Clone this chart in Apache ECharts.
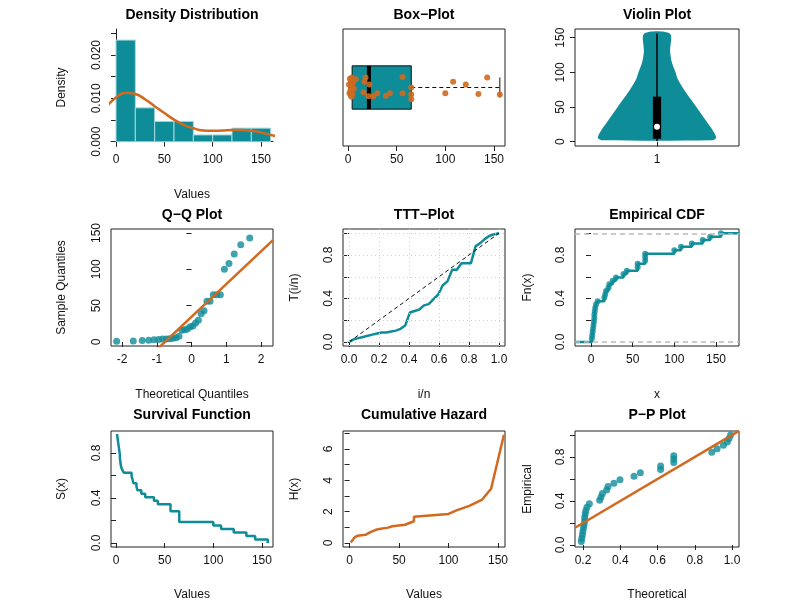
<!DOCTYPE html>
<html>
<head>
<meta charset="utf-8">
<script src="https://cdn.jsdelivr.net/npm/echarts@6/dist/echarts.min.js"></script>
<style>
  html, body { margin: 0; padding: 0; background: #fff; }
  #main { width: 803px; height: 612px; }
</style>
</head>
<body>
<div id="main"></div>
<script>
// sample values (sorted), read from the ECDF / survival steps
const values = [1, 1.5, 2, 2.5, 3, 3.5, 4, 4, 4.5, 5, 6, 8, 16, 17, 18, 21, 22, 26, 30, 39,
  43, 56, 56, 65, 65, 65, 100, 108, 121, 134, 143, 156]
// histogram bin edges
const binEdges = [0, 20, 40, 60, 80, 100, 120, 140, 160]
// kernel density curve
const densX = [-12, 0, 10, 20, 30, 40, 50, 60, 70, 80, 90, 100, 110, 120, 130, 140, 150, 168]
const densY = [0.0075, 0.0102, 0.0113, 0.011, 0.0098, 0.0082, 0.0066, 0.0051, 0.0039, 0.0031,
  0.0026, 0.0025, 0.0026, 0.0027, 0.0027, 0.0025, 0.0021, 0.0011]
// violin half width (in x units) against value
const violinY = [2, 5, 10, 20, 30, 40, 50, 60, 75, 90, 100, 115, 130, 156]
const violinW = [0.33, 0.36, 0.355, 0.33, 0.30, 0.27, 0.24, 0.21, 0.165, 0.127, 0.113, 0.09, 0.08, 0.078]
// vertical jitter of the box-plot points
const jitter = [0.05, -0.1, 0.15, -0.05, 0.12, -0.16, 0.02, 0.17, -0.12, 0.08, -0.02, 0.14,
  -0.08, 0.1, 0.17, -0.15, 0.05, -0.15, -0.1, -0.14, -0.1, -0.1, 0.18, 0.0, -0.12, -0.2,
  -0.1, 0.1, 0.05, -0.11, 0.17, -0.12]

const TEAL = '#0e8c98'
const ORANGE = '#d2691e'
const FONT = 'Liberation Sans'

const n = values.length
const mean = values.reduce((a, b) => a + b, 0) / n
const sd = Math.sqrt(values.reduce((a, b) => a + (b - mean) * (b - mean), 0) / (n - 1))

function qnorm (p) {
  const a = [-39.69683028665376, 220.9460984245205, -275.9285104469687, 138.357751867269, -30.66479806614716, 2.506628277459239]
  const b = [-54.47609879822406, 161.5858368580409, -155.6989798598866, 66.80131188771972, -13.28068155288572]
  const c = [-0.007784894002430293, -0.3223964580411365, -2.400758277161838, -2.549732539343734, 4.374664141464968, 2.938163982698783]
  const d = [0.007784695709041462, 0.3224671290700398, 2.445134137142996, 3.754408661907416]
  const pl = 0.02425
  let q, r
  if (p < pl) {
    q = Math.sqrt(-2 * Math.log(p))
    return (((((c[0] * q + c[1]) * q + c[2]) * q + c[3]) * q + c[4]) * q + c[5]) / ((((d[0] * q + d[1]) * q + d[2]) * q + d[3]) * q + 1)
  }
  if (p > 1 - pl) return -qnorm(1 - p)
  q = p - 0.5
  r = q * q
  return (((((a[0] * r + a[1]) * r + a[2]) * r + a[3]) * r + a[4]) * r + a[5]) * q / (((((b[0] * r + b[1]) * r + b[2]) * r + b[3]) * r + b[4]) * r + 1)
}
function pnorm (z) {
  const t = 1 / (1 + 0.2316419 * Math.abs(z))
  const dd = 0.3989423 * Math.exp(-z * z / 2)
  const p = dd * t * (0.3193815 + t * (-0.3565638 + t * (1.781478 + t * (-1.821256 + t * 1.330274))))
  return z > 0 ? 1 - p : p
}

// derived statistics
const histData = []
for (let i = 0; i < binEdges.length - 1; i++) {
  const cnt = values.filter(v => v > binEdges[i] && v <= binEdges[i + 1]).length
  histData.push([binEdges[i], binEdges[i + 1], cnt / (n * (binEdges[i + 1] - binEdges[i]))])
}
const median = (values[n / 2 - 1] + values[n / 2]) / 2
const q1 = (values[n / 4 - 1] + values[n / 4]) / 2
const q3 = (values[3 * n / 4 - 1] + values[3 * n / 4]) / 2
const qqData = values.map((v, i) => [qnorm((i + 0.5) / n), v])
const qSlope = (q3 - q1) / (qnorm(0.75) - qnorm(0.25))
const qInt = q1 - qSlope * qnorm(0.25)
const total = values.reduce((a, b) => a + b, 0)
const tttData = [[0, 0]]
let cum = 0
values.forEach((v, i) => {
  cum += v
  tttData.push([(i + 1) / n, (cum + (n - i - 1) * v) / total])
})
const ecdfData = values.map((v, i) => [v, (i + 1) / n])
const survData = values.map((v, i) => [v, 1 - (i + 1) / n])
const hazData = values.map((v, i) => [v, -Math.log(Math.max(1 - (i + 1) / n, 0.001))])
const ppData = values.map((v, i) => [pnorm((v - mean) / sd), (i + 1) / n])

// panel frames in pixels
const cols = [[111, 273], [343, 505], [575, 739]]
const rows = [[29, 146], [229, 346], [431, 547]]

function rng (a, b, p1, v1, p2, v2) {
  const s = (v2 - v1) / (p2 - p1)
  return [v1 + (a - p1) * s, v1 + (b - p1) * s]
}
function seq (a, b, st) {
  const out = []
  for (let v = a; v <= b + 1e-9; v += st) out.push(+v.toFixed(6))
  return out
}

const grids = []
const xAxes = []
const yAxes = []
const axisBase = {
  axisLine: { show: true, lineStyle: { color: '#222' } },
  axisTick: { show: true, length: 5, lineStyle: { color: '#222' } },
  splitLine: { show: false },
  axisLabel: { color: '#111', fontSize: 12, fontFamily: FONT }
}
function panel (r, c, frame, xr, xt, xl, xf, yr, yt, yl, yf) {
  grids.push({
    left: cols[c][0], top: rows[r][0],
    width: cols[c][1] - cols[c][0], height: rows[r][1] - rows[r][0],
    show: frame, borderColor: '#222', borderWidth: 1
  })
  const gi = grids.length - 1
  xAxes.push(Object.assign({}, axisBase, {
    gridIndex: gi, type: 'value', min: xr[0], max: xr[1],
    axisTick: Object.assign({}, axisBase.axisTick, { customValues: xt, inside: false }),
    axisLabel: Object.assign({}, axisBase.axisLabel, { customValues: xl, formatter: xf, margin: 8 }),
    axisLine: { show: !frame && xt.length > 0, lineStyle: { color: '#222' } }
  }))
  yAxes.push(Object.assign({}, axisBase, {
    gridIndex: gi, type: 'value', min: yr[0], max: yr[1],
    axisTick: Object.assign({}, axisBase.axisTick, { show: yt.length > 0, customValues: yt }),
    axisLabel: Object.assign({}, axisBase.axisLabel, { show: yl.length > 0, customValues: yl, formatter: yf, rotate: 90, margin: 8 }),
    axisLine: { show: !frame && yt.length > 0, lineStyle: { color: '#222' } }
  }))
  return gi
}
const f0 = v => String(v)
const f1 = v => v.toFixed(1)

const gDen = panel(0, 0, false, rng(111, 273, 116, 0, 261, 150), [0, 50, 100, 150], [0, 50, 100, 150], f0,
  rng(146, 29, 141.7, 0, 55, 0.02), seq(0, 0.025, 0.005), [0, 0.01, 0.02], v => v.toFixed(3))
const gBox = panel(0, 1, true, rng(343, 505, 348, 0, 494, 150), [0, 50, 100, 150], [0, 50, 100, 150], f0,
  [0, 2], [], [], f0)
const gVio = panel(0, 2, true, [0.5, 1.5], [1], [1], f0,
  rng(146, 29, 141.7, 0, 37.7, 150), [0, 50, 100, 150], [0, 50, 100, 150], f0)
const gQQ = panel(1, 0, true, rng(111, 273, 122, -2, 261, 2), [-2, -1, 0, 1, 2], [-2, -1, 0, 1, 2], f0,
  rng(346, 229, 342, 0, 233, 150), [0, 50, 100, 150], [0, 50, 100, 150], f0)
const gTTT = panel(1, 1, true, rng(343, 505, 349, 0, 499, 1), seq(0, 1, 0.2), seq(0, 1, 0.2), f1,
  rng(346, 229, 342, 0, 255, 0.8), seq(0, 1, 0.2), [0, 0.4, 0.8], f1)
const gCDF = panel(1, 2, true, rng(575, 739, 591, 0, 716, 150), [0, 50, 100, 150], [0, 50, 100, 150], f0,
  rng(346, 229, 342, 0, 255, 0.8), seq(0, 1, 0.2), [0, 0.4, 0.8], f1)
const gSur = panel(2, 0, true, rng(111, 272, 116, 0, 261, 150), [0, 50, 100, 150], [0, 50, 100, 150], f0,
  rng(547, 431, 543, 0, 453, 0.8), seq(0, 1, 0.2), [0, 0.4, 0.8], f1)
const gHaz = panel(2, 1, true, rng(343, 505, 349.6, 0, 498, 150), [0, 50, 100, 150], [0, 50, 100, 150], f0,
  rng(547, 431, 543, 0, 449, 6), seq(0, 7, 1), [0, 2, 4, 6], f0)
const gPP = panel(2, 2, true, rng(575, 739, 583, 0.2, 732, 1.0), seq(0.2, 1, 0.2), seq(0.2, 1, 0.2), f1,
  rng(547, 431, 545, 0, 457, 0.8), seq(0, 1, 0.2), [0, 0.4, 0.8], f1)

const series = []
const line = (gi, data, color, extra) => Object.assign({
  type: 'line', xAxisIndex: gi, yAxisIndex: gi, data: data, symbol: 'none',
  lineStyle: { color: color, width: 2.5 }, itemStyle: { color: color }, animation: false, silent: true
}, extra || {})
const dots = (gi, data, size) => ({
  type: 'scatter', xAxisIndex: gi, yAxisIndex: gi, data: data, symbolSize: size || 7,
  itemStyle: { color: TEAL }, animation: false, silent: true
})

// density histogram + curve
series.push({
  type: 'custom', xAxisIndex: gDen, yAxisIndex: gDen, data: histData, animation: false, silent: true,
  renderItem: (params, api) => {
    const p0 = api.coord([api.value(0), api.value(2)])
    const p1 = api.coord([api.value(1), 0])
    return { type: 'rect', shape: { x: p0[0], y: p0[1], width: p1[0] - p0[0], height: p1[1] - p0[1] },
      style: { fill: TEAL, stroke: '#a8d8dc', lineWidth: 1 } }
  }
})
series.push(line(gDen, densX.map((x, i) => [x, densY[i]]), ORANGE, { smooth: true }))

// box-plot
series.push({
  type: 'custom', xAxisIndex: gBox, yAxisIndex: gBox, data: [[q1, q3, median, values[0], values[n - 1]]],
  animation: false, silent: true,
  renderItem: (params, api) => {
    const a = api.coord([api.value(0), 1.37])
    const b = api.coord([api.value(1), 0.63])
    const m1 = api.coord([api.value(2), 1.37])
    const m2 = api.coord([api.value(2), 0.63])
    const lo = api.coord([api.value(3), 1])
    const hi = api.coord([api.value(4), 1])
    const hh = 10
    return { type: 'group', children: [
      { type: 'line', shape: { x1: b[0], y1: hi[1], x2: hi[0], y2: hi[1] }, style: { stroke: '#111', lineWidth: 1, lineDash: [4, 3] } },
      { type: 'line', shape: { x1: lo[0], y1: lo[1], x2: a[0], y2: lo[1] }, style: { stroke: '#111', lineWidth: 1, lineDash: [4, 3] } },
      { type: 'line', shape: { x1: hi[0], y1: hi[1] - hh, x2: hi[0], y2: hi[1] + hh }, style: { stroke: '#111', lineWidth: 1 } },
      { type: 'line', shape: { x1: lo[0], y1: lo[1] - hh, x2: lo[0], y2: lo[1] + hh }, style: { stroke: '#111', lineWidth: 1 } },
      { type: 'rect', shape: { x: a[0], y: a[1], width: b[0] - a[0], height: b[1] - a[1] }, style: { fill: TEAL, stroke: '#111', lineWidth: 1 } },
      { type: 'line', shape: { x1: m1[0], y1: m1[1], x2: m2[0], y2: m2[1] }, style: { stroke: '#000', lineWidth: 4 } }
    ] }
  }
})
series.push({
  type: 'scatter', xAxisIndex: gBox, yAxisIndex: gBox, data: values.map((v, i) => [v, 1 + jitter[i]]),
  symbolSize: 6, itemStyle: { color: ORANGE, opacity: 0.9 }, animation: false, silent: true
})

// violin
series.push({
  type: 'custom', xAxisIndex: gVio, yAxisIndex: gVio, data: [[1]], animation: false, silent: true,
  renderItem: (params, api) => {
    const pts = []
    violinY.forEach((y, i) => pts.push(api.coord([1 - violinW[i], y])))
    for (let i = violinY.length - 1; i >= 0; i--) pts.push(api.coord([1 + violinW[i], violinY[i]]))
    const w1 = api.coord([1, values[0]])
    const w2 = api.coord([1, values[n - 1]])
    const b0 = api.coord([0.975, q3])
    const b1 = api.coord([1.025, q1])
    const md = api.coord([1, median])
    return { type: 'group', children: [
      { type: 'polygon', shape: { points: pts, smooth: 0.3 }, style: { fill: TEAL } },
      { type: 'line', shape: { x1: w1[0], y1: w1[1], x2: w2[0], y2: w2[1] }, style: { stroke: '#000', lineWidth: 1.5 } },
      { type: 'rect', shape: { x: b0[0], y: b0[1], width: b1[0] - b0[0], height: b1[1] - b0[1] }, style: { fill: '#000' } },
      { type: 'circle', shape: { cx: md[0], cy: md[1], r: 3 }, style: { fill: '#fff' } }
    ] }
  }
})

// Q-Q
const qqX = xAxes[gQQ]
series.push(dots(gQQ, qqData))
series.push(line(gQQ, [[qqX.min, qInt + qSlope * qqX.min], [qqX.max, qInt + qSlope * qqX.max]], ORANGE, { z: 3 }))

// TTT
const grey = { color: '#cfcfcf', type: [1, 3], width: 1 }
series.push(line(gTTT, tttData, TEAL, {
  markLine: {
    silent: true, symbol: 'none', label: { show: false }, lineStyle: grey, animation: false,
    data: seq(0, 1, 0.2).map(v => ({ xAxis: v })).concat(seq(0, 1, 0.2).map(v => ({ yAxis: v })))
  }
}))
series.push(line(gTTT, [[0, 0], [1, 1]], '#111', { lineStyle: { color: '#111', width: 1, type: [4, 3] } }))

// ECDF
const cdfX = xAxes[gCDF]
series.push(line(gCDF, [[cdfX.min, 0], [values[0], 0]].concat(ecdfData).concat([[cdfX.max, 1]]), TEAL, {
  step: 'end',
  markLine: {
    silent: true, symbol: 'none', label: { show: false }, animation: false,
    lineStyle: { color: '#bbb', type: [5, 4], width: 1.5 }, data: [{ yAxis: 0 }, { yAxis: 1 }]
  }
}))
series.push(dots(gCDF, ecdfData, 6))

// survival
series.push(line(gSur, [[values[0], 1 - 1 / n]].concat(survData), TEAL, { step: 'end' }))

// cumulative hazard
series.push(line(gHaz, hazData, ORANGE))

// P-P
const ppX = xAxes[gPP]
series.push(dots(gPP, ppData))
series.push(line(gPP, [[ppX.min, ppX.min], [ppX.max, ppX.max]], ORANGE, { z: 3 }))

// titles and axis names
const titles = ['Density Distribution', 'Box\u2212Plot', 'Violin Plot', 'Q\u2212Q Plot', 'TTT\u2212Plot',
  'Empirical CDF', 'Survival Function', 'Cumulative Hazard', 'P\u2212P Plot']
const xNames = ['Values', '', '', 'Theoretical Quantiles', 'i/n', 'x', 'Values', 'Values', 'Theoretical']
const yNames = ['Density', '', '', 'Sample Quantiles', 'T(i/n)', 'Fn(x)', 'S(x)', 'H(x)', 'Empirical']
const titleY = [15, 215, 415]
const xNameY = [195, 395, 595]
const yNameX = [62, 295, 528]
const graphic = []
for (let r = 0; r < 3; r++) {
  for (let c = 0; c < 3; c++) {
    const k = r * 3 + c
    const cx = (cols[c][0] + cols[c][1]) / 2
    const cy = (rows[r][0] + rows[r][1]) / 2
    graphic.push({ type: 'text', x: cx, y: titleY[r], style: { text: titles[k], font: 'bold 14px ' + FONT, fill: '#000', textAlign: 'center', textVerticalAlign: 'middle' } })
    if (xNames[k]) graphic.push({ type: 'text', x: cx, y: xNameY[r], style: { text: xNames[k], font: '12px ' + FONT, fill: '#111', textAlign: 'center', textVerticalAlign: 'middle' } })
    if (yNames[k]) graphic.push({ type: 'text', x: yNameX[c], y: cy, rotation: Math.PI / 2, style: { text: yNames[k], font: '12px ' + FONT, fill: '#111', textAlign: 'center', textVerticalAlign: 'middle' } })
  }
}

const chart = echarts.init(document.getElementById('main'))
chart.setOption({
  backgroundColor: '#fff',
  animation: false,
  textStyle: { fontFamily: FONT },
  grid: grids,
  xAxis: xAxes,
  yAxis: yAxes,
  series: series,
  graphic: graphic
})
</script>
</body>
</html>
